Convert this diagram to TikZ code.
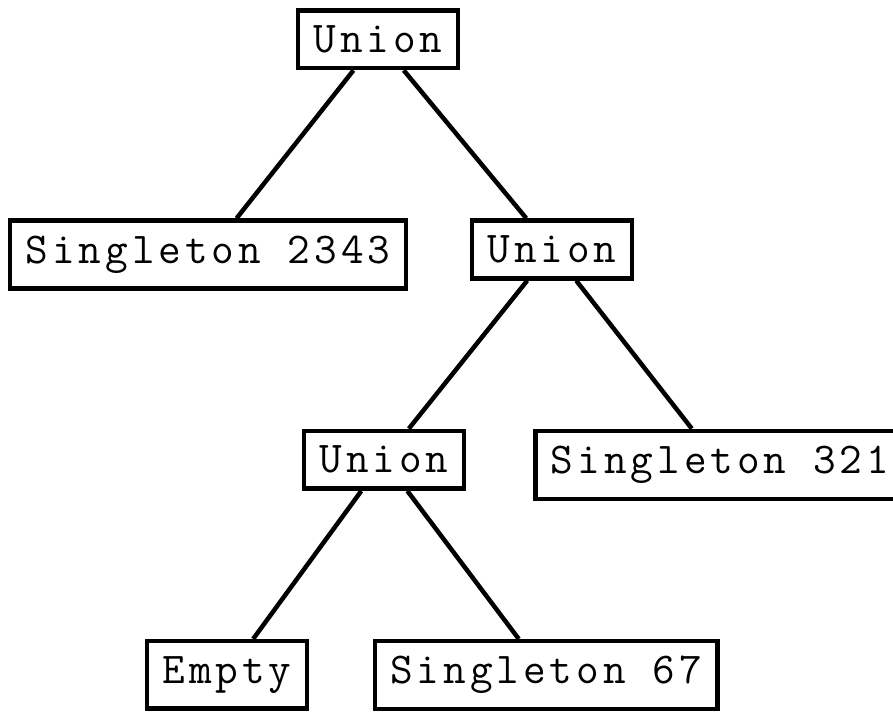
\documentclass[tikz,border=0pt]{standalone}
\usepackage{fontspec}
\newfontfamily\codefont[LetterSpace=9]{Latin Modern Mono}
\usepackage{tikz}
\usetikzlibrary{positioning}

\begin{document}
\begin{tikzpicture}[
    x=1pt, y=1pt,
    node distance=148pt,
    box/.style={rectangle, draw, line width=4.5pt, inner xsep=15.5pt, inner ysep=15.2pt, font=\codefont\fontsize{44pt}{48pt}\selectfont},
    edge/.style={line width=4.5pt}
]
\useasboundingbox (0,0) rectangle (893,-713);

% Root
\node[box, anchor=north] (root) at (378,-8) {Union};

% Level 1
\node[box, below=of root, xshift=-170pt] (s2343) {Singleton 2343};
\node[box, below=of root, xshift=174pt] (union2) {Union};

% Level 2
\node[box, below=of union2, xshift=-168pt] (union3) {Union};
\node[box, below=of union2, xshift=168pt] (s321) {Singleton 321};

% Level 3
\node[box, below=of union3, xshift=-157pt] (empty) {Empty};
\node[box, below=of union3, xshift=162pt] (s67) {Singleton 67};

% Edges
\draw[edge] (root) -- (s2343);
\draw[edge] (root) -- (union2);
\draw[edge] (union2) -- (union3);
\draw[edge] (union2) -- (s321);
\draw[edge] (union3) -- (empty);
\draw[edge] (union3) -- (s67);

\end{tikzpicture}
\end{document}
